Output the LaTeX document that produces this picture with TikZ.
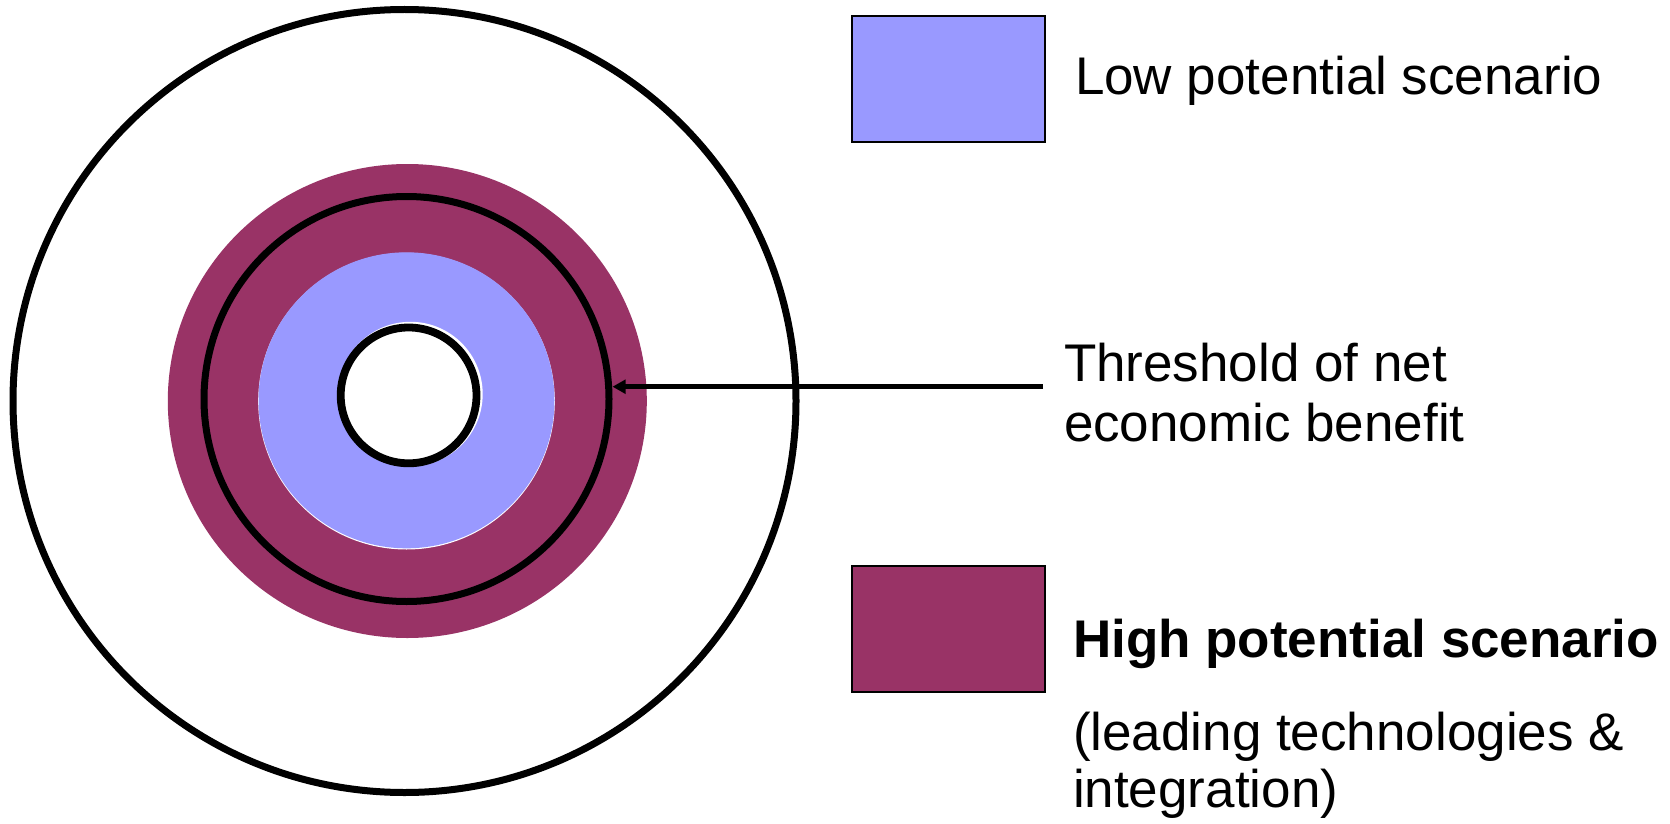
\documentclass[tikz,border=0pt]{standalone}
\usepackage{fontspec}
\setmainfont{Liberation Sans}
\usetikzlibrary{arrows.meta}
\definecolor{lowblue}{HTML}{9999FF}
\definecolor{highpurple}{HTML}{993366}
\begin{document}
\begin{tikzpicture}[x=0.5pt,y=-0.5pt,
  lbl/.style={anchor=base west, inner sep=0pt, outer sep=0pt, font=\fontsize{26.5pt}{30pt}\selectfont},
  blbl/.style={lbl, font=\fontsize{26.5pt}{30pt}\selectfont\bfseries},
  ringline/.style={draw=black, line width=3.5pt},
  legendbox/.style={draw=black, line width=1pt},
  arrowline/.style={line width=2.3pt, -{Triangle[length=6.5pt,width=6.8pt]}}]
\useasboundingbox (0,0) rectangle (1670,824);
\fill[white] (0,0) rectangle (1670,824);
% outer circle
\draw[line width=3.5pt] (404.5,401) circle [radius=391.5];
% high potential band
\fill[highpurple] (407.3,401) ellipse [x radius=239.5, y radius=237];
% low potential band
\fill[white] (406.5,401.2) circle [radius=148.3];
\fill[lowblue] (406.5,400.3) circle [radius=148];
% inner core
\fill[white] (410.5,394) circle [radius=72.2];
\draw[ringline, line width=3.9pt] (408.6,395.4) circle [radius=67.9];
% threshold circle
\node[circle, ringline, inner sep=0pt, minimum size=202.5pt] (threshold) at (406.5,399) {};
% arrow
\coordinate (arrowstart) at (1043,386.7);
\draw[arrowline] (arrowstart) -- (threshold.east |- arrowstart);
% legend
\draw[legendbox, fill=lowblue] (852,16) rectangle (1045,142);
\node[lbl] (lowlabel) at (1075,95) {Low potential scenario};
\node[lbl] (thr1) at (1064,381) {Threshold of net};
\node[lbl] (thr2) at (1064,441) {economic benefit};
\draw[legendbox, fill=highpurple] (852,566) rectangle (1045,692);
\node[blbl] (highlabel) at (1073,657) {High potential scenario};
\node[lbl] (lead1) at (1073,750) {(leading technologies \&};
\node[lbl] (lead2) at (1073,807) {integration)};
\end{tikzpicture}
\end{document}
